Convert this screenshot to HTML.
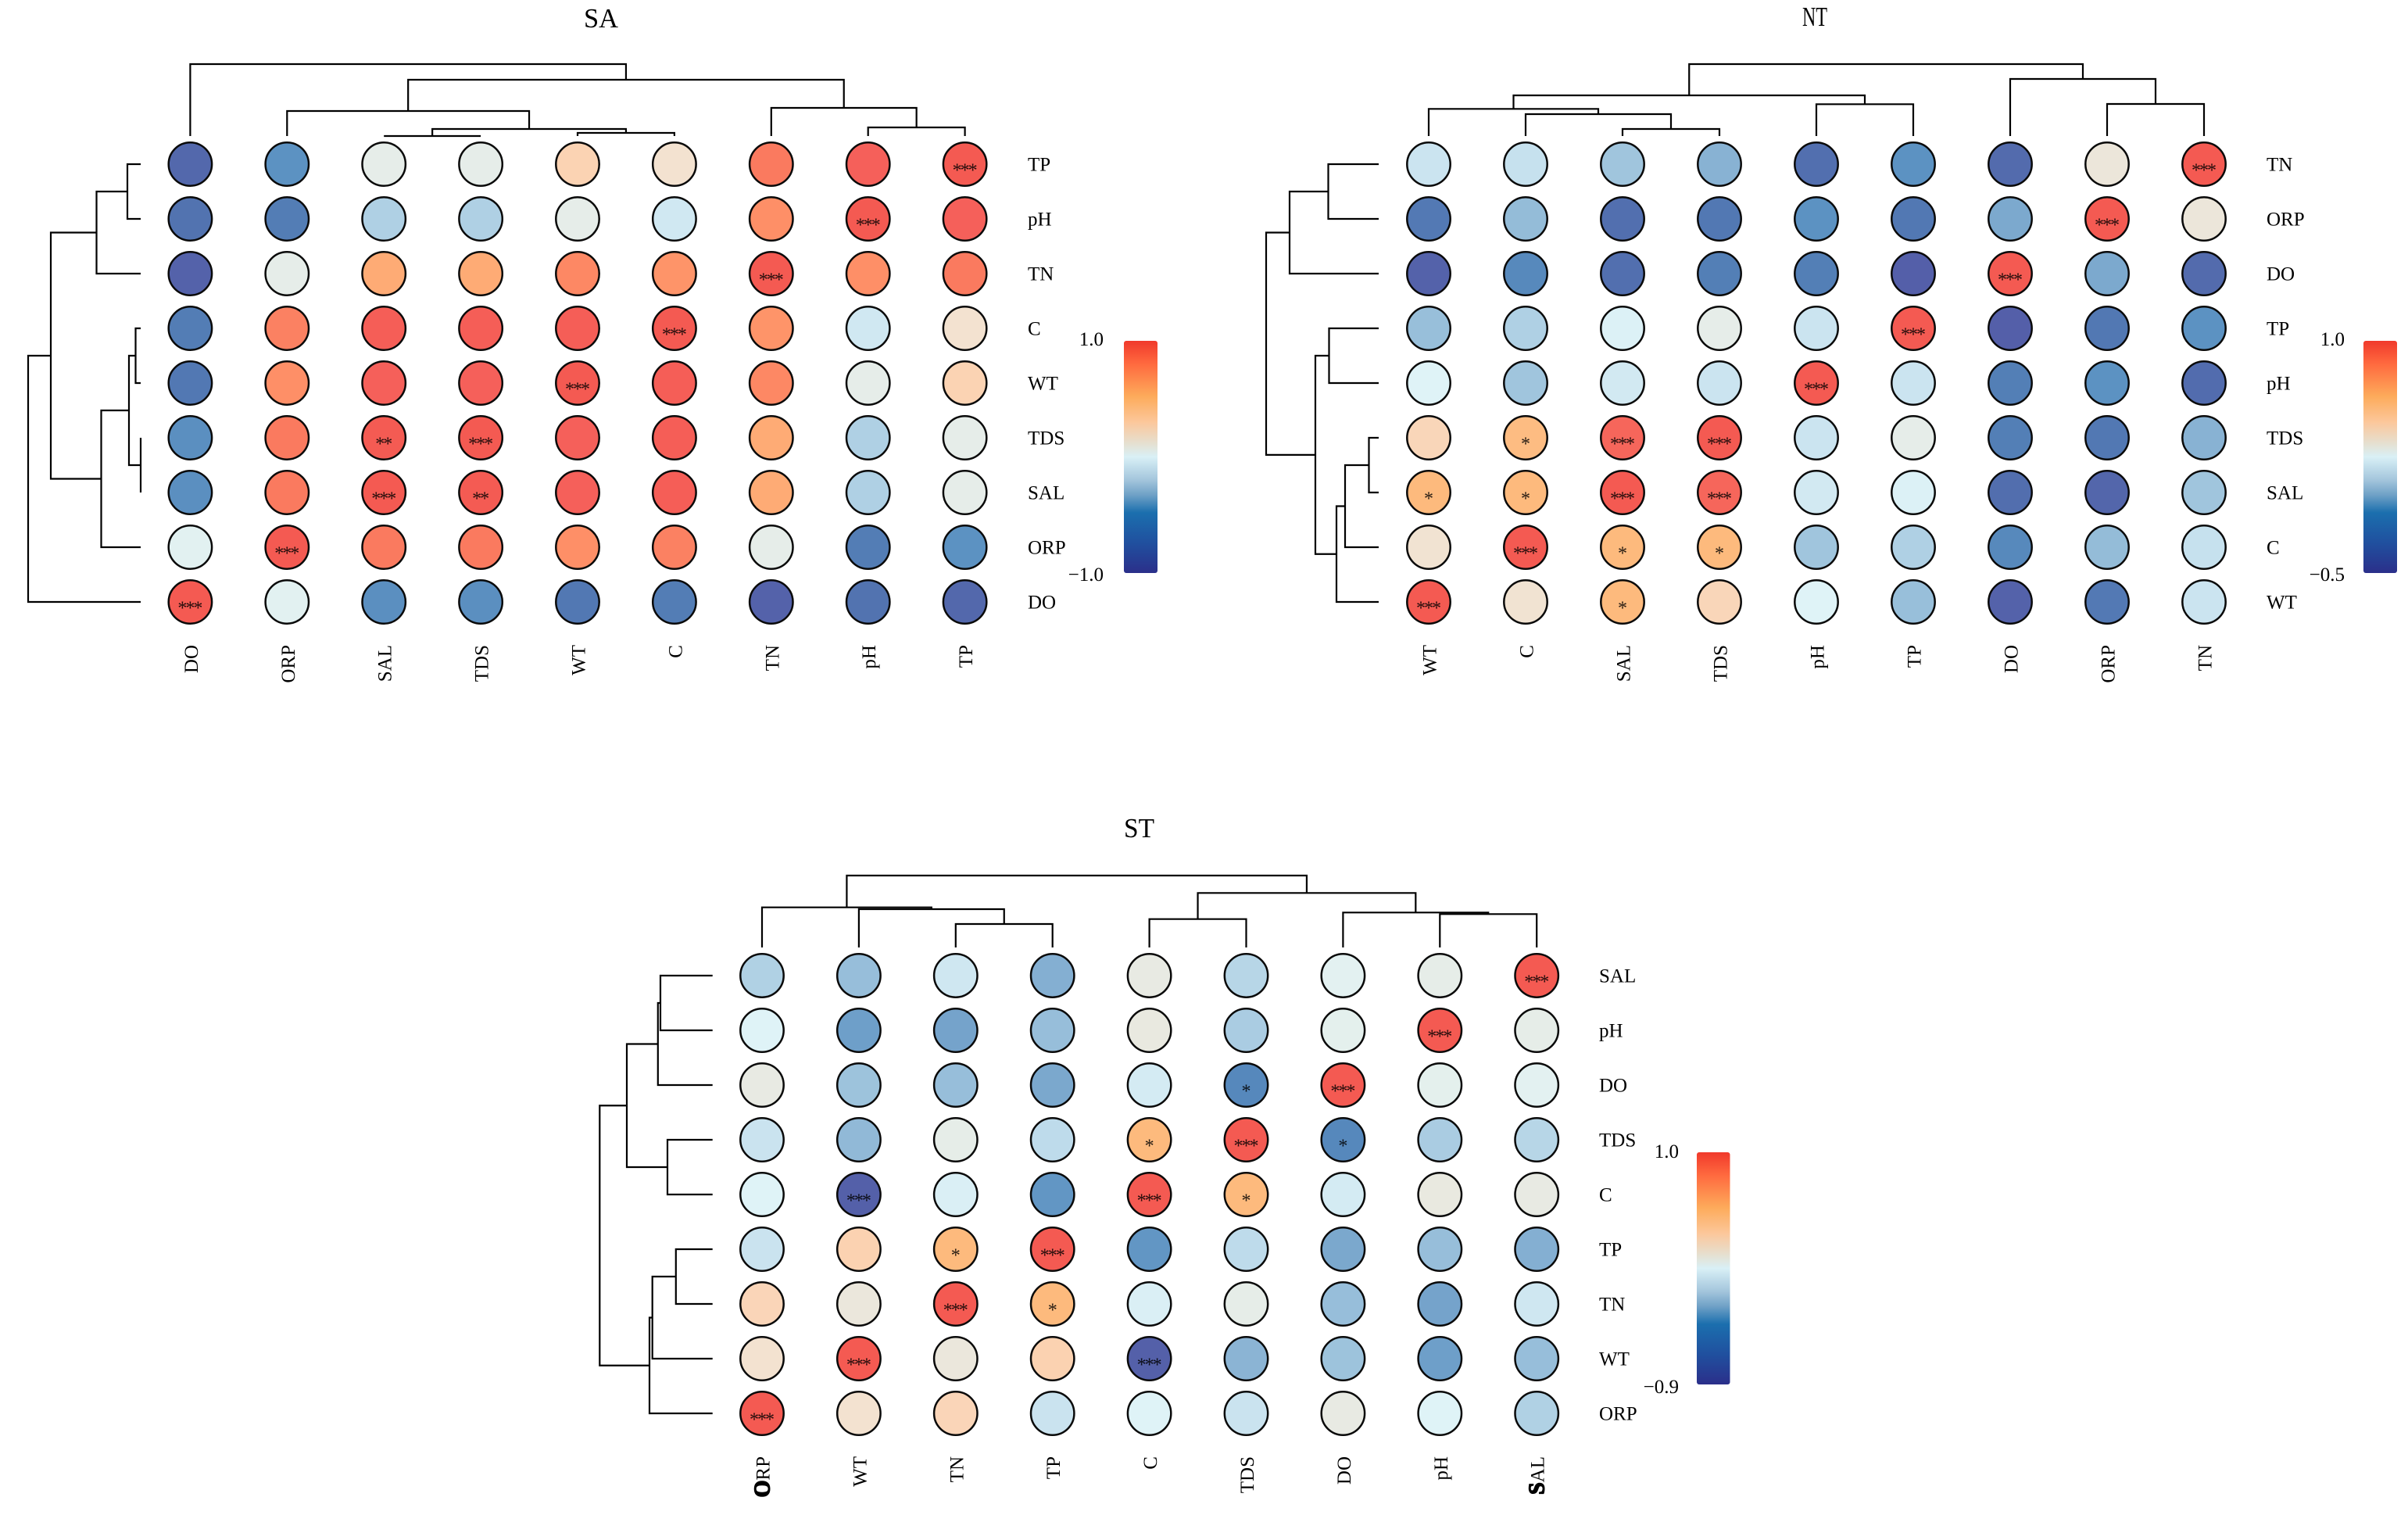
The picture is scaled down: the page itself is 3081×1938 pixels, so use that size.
<!DOCTYPE html>
<html lang="en">
<head>
<meta charset="utf-8">
<title>SA, NT and ST clustered correlation heatmaps</title>
<style>
html,body{margin:0;padding:0;background:#fff;width:3081px;height:1938px;overflow:hidden}
svg{display:block}
text{font-family:"Liberation Serif","Times New Roman",serif;fill:#000}
</style>
</head>
<body>
<svg id="chart" xmlns="http://www.w3.org/2000/svg" width="3081" height="1938" viewBox="0 0 3081 1938">
<defs>
<linearGradient id="bar-gradient" x1="0" y1="0" x2="0" y2="1"></linearGradient>
</defs>
<rect x="0" y="0" width="3081" height="1938" fill="#ffffff"></rect>
</svg>
<script>
/* ---------- SA ---------- */
const saRowLabels = ["TP","pH","TN","C","WT","TDS","SAL","ORP","DO"];
const saColLabels = ["DO","ORP","SAL","TDS","WT","C","TN","pH","TP"];
const saValues = [
[-.80,-.44,.08,.08,.30,.20,.80,.94,1],
[-.68,-.60,-.16,-.16,.08,-.06,.68,1,.94],
[-.88,.08,.56,.56,.72,.66,1,.68,.80],
[-.60,.76,.96,.96,.96,1,.66,-.06,.20],
[-.64,.68,.94,.94,1,.96,.72,.08,.30],
[-.46,.80,.99,1,.94,.96,.56,-.16,.08],
[-.46,.80,1,.99,.94,.96,.56,-.16,.08],
[.04,1,.80,.80,.68,.76,.08,-.60,-.44],
[1,.04,-.46,-.46,-.64,-.60,-.88,-.68,-.80]
];
const saStars = [["TP","TP","***"],["pH","pH","***"],["TN","TN","***"],["C","C","***"],["WT","WT","***"],["TDS","TDS","***"],["TDS","SAL","**"],["SAL","SAL","***"],["SAL","TDS","**"],["ORP","ORP","***"],["DO","DO","***"]];
const saColTree = [92,0,[72,[32,1,[9,[0,2,3],[4,4,5]]],[36,6,[11,7,8]]]];
const saRowTree = [144,[115,[56.5,[17,0,1],2],[50.5,[15,[6.5,3,4],[0,5,6]],7]],8];
const saLegendTicks = ["1.0","\u22121.0"];
const saDomain = [-1,1];

/* ---------- NT ---------- */
const ntRowLabels = ["TN","ORP","DO","TP","pH","TDS","SAL","C","WT"];
const ntColLabels = ["WT","C","SAL","TDS","pH","TP","DO","ORP","TN"];
const ntValues = [
[.19,.18,.09,.03,-.28,-.08,-.32,.36,1],
[-.22,.06,-.28,-.23,-.08,-.23,0,1,.36],
[-.41,-.13,-.28,-.19,-.19,-.43,1,0,-.32],
[.07,.13,.24,.31,.19,1,-.43,-.23,-.08],
[.25,.09,.21,.19,1,.19,-.19,-.08,-.31],
[.46,.57,.93,1,.19,.31,-.19,-.23,.03],
[.58,.58,1,.93,.21,.24,-.29,-.37,.09],
[.39,1,.58,.58,.09,.13,-.13,.06,.18],
[1,.39,.58,.46,.25,.07,-.41,-.22,.19]
];
const ntStars = [["TN","TN","***"],["ORP","ORP","***"],["DO","DO","***"],["TP","TP","***"],["pH","pH","***"],["TDS","C","*"],["TDS","SAL","***"],["TDS","TDS","***"],["SAL","WT","*"],["SAL","C","*"],["SAL","SAL","***"],["SAL","TDS","***"],["C","C","***"],["C","SAL","*"],["C","TDS","*"],["WT","WT","***"],["WT","SAL","*"]];
const ntColTree = [92,[52,[34.7,0,[28,1,[9,2,3]]],[40.7,4,5]],[73,6,[41,7,8]]];
const ntRowTree = [144,[114,[64.5,0,1],2],[81,[63.5,3,4],[54,[43,[12.5,5,6],7],8]]];
const ntLegendTicks = ["1.0","\u22120.5"];
const ntDomain = [-.5,1];

/* ---------- ST ---------- */
const stRowLabels = ["SAL","pH","DO","TDS","C","TP","TN","WT","ORP"];
const stColLabels = ["ORP","WT","TN","TP","C","TDS","DO","pH","SAL"];
const stValues = [
[-.10,-.18,-.01,-.24,.15,-.08,.09,.13,1],
[.05,-.31,-.29,-.18,.16,-.12,.11,1,.13],
[.15,-.16,-.18,-.27,.01,-.44,1,.11,.09],
[-.03,-.20,.13,-.06,.47,1,-.44,-.12,-.08],
[.05,-.81,.03,-.35,1,.47,.01,.16,.15],
[-.03,.34,.47,1,-.35,-.06,-.27,-.18,-.24],
[.32,.18,1,.47,.03,.13,-.18,-.29,-.01],
[.24,1,.18,.34,-.81,-.22,-.16,-.31,-.18],
[1,.24,.32,-.03,.05,-.03,.15,.05,-.10]
];
const stStars = [["SAL","SAL","***"],["pH","pH","***"],["DO","DO","***"],["DO","TDS","*"],["TDS","C","*"],["TDS","TDS","***"],["TDS","DO","*"],["C","WT","***"],["C","C","***"],["C","TDS","*"],["TP","TN","*"],["TP","TP","***"],["TN","TN","***"],["TN","TP","*"],["WT","WT","***"],["WT","C","***"],["ORP","ORP","***"]];
const stColTree = [92,[51.3,0,[49,1,[30,2,3]]],[69.7,[36.3,4,5],[44.7,6,[42.7,7,8]]]];
const stRowTree = [144.4,[109.7,[69.9,[66.7,0,1],2],[57.7,3,4]],[80.7,[77,[46.9,5,6],7],8]];
const stLegendTicks = ["1.0","\u22120.9"];
const stDomain = [-.9,1];

/* ---------- colour bar ramp (top of bar to bottom) ---------- */
const rampOffsets = [0,.10,.24,.35,.44,.50,.60,.665,.74,.87,1];
const rampColors = ["#f0392b","#ff6a3f","#fdab5b","#fcc79b","#e6dfcf","#d9f0f6","#a3c5dc","#6ea0c6","#1b6fae","#20509f","#2b2f8a"];

/* ---------- translucent cell ramp (low to high, position in the domain) ---------- */
const cellOffsets = [0,.05,.15,.22,.28,.33,.38,.42,.46,.50,.53,.56,.60,.65,.72,.78,.84,.90,.97,1];
const cellColors = ["#5558a5","#5460a9","#5270af","#5382b8","#5c92c2","#7aa7cd","#98bfda","#afd0e4","#cbe4f0","#dff3f7","#e4f0ee","#e9e8df","#f3e2d0","#fbd3b3","#fdba7d","#feab75","#fe8f67","#fa7a5f","#f5605a","#f45a52"];

const NS = "http://www.w3.org/2000/svg";
const svg = document.getElementById("chart");

function hexToRgb(h){
  return [parseInt(h.slice(1,3),16),parseInt(h.slice(3,5),16),parseInt(h.slice(5,7),16)];
}
function cellColor(value,domain){
  const t = Math.min(1,Math.max(0,(value-domain[0])/(domain[1]-domain[0])));
  let k = 0;
  while(k < cellOffsets.length-2 && t > cellOffsets[k+1]) k++;
  const f = (t-cellOffsets[k])/(cellOffsets[k+1]-cellOffsets[k]);
  const a = hexToRgb(cellColors[k]);
  const b = hexToRgb(cellColors[k+1]);
  const c = [0,1,2].map(function(i){
    return Math.round(a[i]+(b[i]-a[i])*f);
  });
  return "rgb("+c.join(",")+")";
}
function make(parent,tag,attrs,txt){
  const el = document.createElementNS(NS,tag);
  for(const k in attrs) el.setAttribute(k,attrs[k]);
  if(txt !== undefined) el.textContent = txt;
  parent.appendChild(el);
  return el;
}

const gradient = document.getElementById("bar-gradient");
rampOffsets.forEach(function(off,i){
  make(gradient,"stop",{offset:off,"stop-color":rampColors[i]});
});

function drawColTree(group,node,xScale,base){
  if(typeof node === "number") return {x:xScale(node),h:0};
  const a = drawColTree(group,node[1],xScale,base);
  const b = drawColTree(group,node[2],xScale,base);
  const y = base-node[0];
  const line = make(group,"path",{d:"M"+a.x+" "+(base-a.h)+"V"+y+"H"+b.x+"V"+(base-b.h),fill:"none",stroke:"#000","stroke-width":2.2});
  
  
  return {x:(a.x+b.x)/2,h:node[0]};
}
function drawRowTree(group,node,yScale,base){
  if(typeof node === "number") return {y:yScale(node),h:0};
  const a = drawRowTree(group,node[1],yScale,base);
  const b = drawRowTree(group,node[2],yScale,base);
  const x = base-node[0];
  const line = make(group,"path",{d:"M"+(base-a.h)+" "+a.y+"H"+x+"V"+b.y+"H"+(base-b.h),fill:"none",stroke:"#000","stroke-width":2.2});
  
  
  return {y:(a.y+b.y)/2,h:node[0]};
}

function drawPanel(cfg){
  const xScale = function(i){return cfg.x0+i*cfg.dx;};
  const yScale = function(i){return cfg.y0+i*cfg.dy;};
  const g = make(svg,"g",{});
  
  

  const title = make(g,"text",{x:cfg.titleX,y:cfg.titleY,"font-size":35,"text-anchor":"middle",textLength:cfg.titleW,lengthAdjust:"spacingAndGlyphs"},cfg.title);
  
  

  const colDendro = make(g,"g",{});
  
  
  drawColTree(colDendro,cfg.colTree,xScale,cfg.colBase);

  const rowDendro = make(g,"g",{});
  
  
  drawRowTree(rowDendro,cfg.rowTree,yScale,cfg.rowBase);

  cfg.values.forEach(function(row,r){
    row.forEach(function(v,c){
      const cell = make(g,"circle",{cx:xScale(c),cy:yScale(r),r:27.7,fill:cellColor(v,cfg.domain),stroke:"#0a0a0a","stroke-width":2.5});
      
      
    });
  });

  cfg.stars.forEach(function(s){
    const r = cfg.rowLabels.indexOf(s[0]);
    const c = cfg.colLabels.indexOf(s[1]);
    const star = make(g,"text",{x:xScale(c)-1,y:yScale(r)+15.5,"font-size":24,"letter-spacing":-2,"text-anchor":"middle","fill-opacity":.85},s[2]);
    
    
  });

  cfg.rowLabels.forEach(function(t,r){
    const lab = make(g,"text",{x:cfg.rowLabelX,y:yScale(r)+8.3,"font-size":25},t);
    
    
  });

  cfg.colLabels.forEach(function(t,c){
    const bx = xScale(c)+9.5;
    const lab = make(g,"text",{x:0,y:0,"font-size":25,"text-anchor":"end",transform:"translate("+bx+" "+cfg.colLabelY+") rotate(-90)"});
    
    
    if(cfg.heavyFirst && cfg.heavyFirst.indexOf(t) >= 0){
      const head = make(lab,"tspan",{"font-size":28,"font-weight":"bold",stroke:"#000","stroke-width":1.5},t.charAt(0));
      
      
      make(lab,"tspan",{},t.slice(1));
    } else {
      lab.textContent = t;
    }
  });

  const bar = make(g,"rect",{x:cfg.barX,y:cfg.barY,width:cfg.barW,height:cfg.barH,rx:3,ry:3,fill:"url(#bar-gradient)"});
  
  

  const hi = make(g,"text",{x:cfg.tickX,y:cfg.tickHiY,"font-size":25,"text-anchor":"end"},cfg.ticks[0]);
  
  
  const lo = make(g,"text",{x:cfg.tickX,y:cfg.tickLoY,"font-size":25,"text-anchor":"end"},cfg.ticks[1]);
  
  
}

drawPanel({name:"sa",title:"SA",titleX:769,titleY:35,titleW:44,
  x0:243.4,dx:123.9,y0:210,dy:70,colBase:174,rowBase:180,
  rowLabelX:1315,colLabelY:825,
  barX:1438,barY:436,barW:43,barH:297,tickX:1412,tickHiY:442,tickLoY:743,
  rowLabels:saRowLabels,colLabels:saColLabels,values:saValues,stars:saStars,
  colTree:saColTree,rowTree:saRowTree,ticks:saLegendTicks,domain:saDomain});

drawPanel({name:"nt",title:"NT",titleX:2322,titleY:33,titleW:32,
  x0:1828,dx:124,y0:210,dy:70,colBase:174,rowBase:1764,
  rowLabelX:2900,colLabelY:825,
  barX:3024,barY:436,barW:43,barH:297,tickX:3000,tickHiY:442,tickLoY:743,
  rowLabels:ntRowLabels,colLabels:ntColLabels,values:ntValues,stars:ntStars,
  colTree:ntColTree,rowTree:ntRowTree,ticks:ntLegendTicks,domain:ntDomain});

drawPanel({name:"st",title:"ST",titleX:1457.5,titleY:1071,titleW:39,
  x0:975,dx:123.9,y0:1248,dy:70,colBase:1212,rowBase:911.7,
  rowLabelX:2046,colLabelY:1863,heavyFirst:["ORP","SAL"],
  barX:2171,barY:1474,barW:42.5,barH:297,tickX:2148,tickHiY:1481,tickLoY:1782,
  rowLabels:stRowLabels,colLabels:stColLabels,values:stValues,stars:stStars,
  colTree:stColTree,rowTree:stRowTree,ticks:stLegendTicks,domain:stDomain});
</script>
</body>
</html>
